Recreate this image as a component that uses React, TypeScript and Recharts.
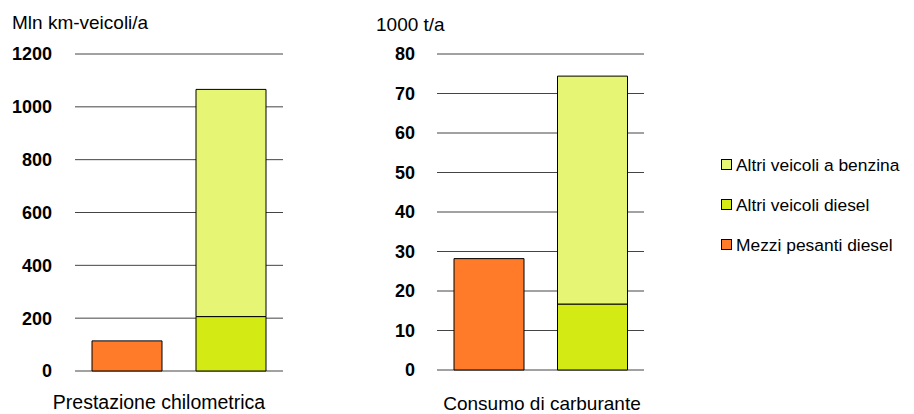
import React from 'react';
import { BarChart, Bar, XAxis, YAxis, CartesianGrid } from 'recharts';

const seriesNames = ['Mezzi pesanti diesel', 'Altri veicoli diesel', 'Altri veicoli a benzina'];
const seriesColors = ['#FF7A29', '#D4EA14', '#E6F573'];
const seriesKeys = ['pesanti', 'diesel', 'benzina'];

const groups = ['Mezzi pesanti', 'Altri veicoli'];

// Prestazione chilometrica (Mln km-veicoli/a)
const kmPesanti = [114, 0];
const kmDiesel = [0, 206];
const kmBenzina = [0, 860];
const kmTicks = [0, 200, 400, 600, 800, 1000, 1200];

// Consumo di carburante (1000 t/a)
const fuelPesanti = [28.2, 0];
const fuelDiesel = [0, 16.7];
const fuelBenzina = [0, 57.7];
const fuelTicks = [0, 10, 20, 30, 40, 50, 60, 70, 80];

const kmData = groups.map((g, i) => ({ name: g, pesanti: kmPesanti[i], diesel: kmDiesel[i], benzina: kmBenzina[i] }));
const fuelData = groups.map((g, i) => ({ name: g, pesanti: fuelPesanti[i], diesel: fuelDiesel[i], benzina: fuelBenzina[i] }));

const FONT = '"Liberation Sans", Arial, sans-serif';

function Panel({ data, ticks, yWidth, tickMargin, width, right, bottom }: any) {
  return (
    <BarChart width={width} height={414} data={data} margin={{ top: 54, right, bottom, left: 0 }} barSize={70}>
      <CartesianGrid horizontal vertical={false} stroke="#444" strokeWidth={1} />
      <XAxis dataKey="name" hide />
      <YAxis
        width={yWidth}
        domain={[0, ticks[ticks.length - 1]]}
        ticks={ticks}
        interval={0}
        axisLine={false}
        tickLine={false}
        tickSize={0}
        tickMargin={tickMargin}
        tick={{ fill: '#000', fontSize: 18, fontWeight: 'bold', fontFamily: FONT }}
      />
      {seriesKeys.map((k, i) => (
        <Bar key={k} dataKey={k} stackId="s" fill={seriesColors[i]} stroke="#000" strokeWidth={1} isAnimationActive={false} />
      ))}
    </BarChart>
  );
}

export default function App() {
  const legendOrder = [2, 1, 0];
  return (
    <div style={{ position: 'absolute', left: 0, top: 0, width: 914, height: 414, background: '#fff', fontFamily: FONT }}>
      <div style={{ position: 'absolute', left: 0, top: 0 }}>
        <Panel data={kmData} ticks={kmTicks} yWidth={75} tickMargin={23} width={300} right={17} bottom={43} />
      </div>
      <div style={{ position: 'absolute', left: 300, top: 0 }}>
        <Panel data={fuelData} ticks={fuelTicks} yWidth={137} tickMargin={22} width={360} right={16} bottom={44} />
      </div>
      <svg width={914} height={414} style={{ position: 'absolute', left: 0, top: 0, pointerEvents: 'none' }}>
        <g fontFamily={FONT} fill="#000">
          <text x={12} y={29} fontSize={19}>Mln km-veicoli/a</text>
          <text x={376} y={31} fontSize={19}>1000 t/a</text>
          <text x={159} y={409} fontSize={19.5} textAnchor="middle">Prestazione chilometrica</text>
          <text x={542} y={410} fontSize={19} textAnchor="middle">Consumo di carburante</text>
          {legendOrder.map((si, row) => (
            <g key={si}>
              <rect x={721.5} y={159.5 + row * 40} width={10} height={10} fill={seriesColors[si]} stroke="#000" strokeWidth={1} />
              <text x={736} y={171 + row * 40} fontSize={17.4}>{seriesNames[si]}</text>
            </g>
          ))}
        </g>
      </svg>
    </div>
  );
}
